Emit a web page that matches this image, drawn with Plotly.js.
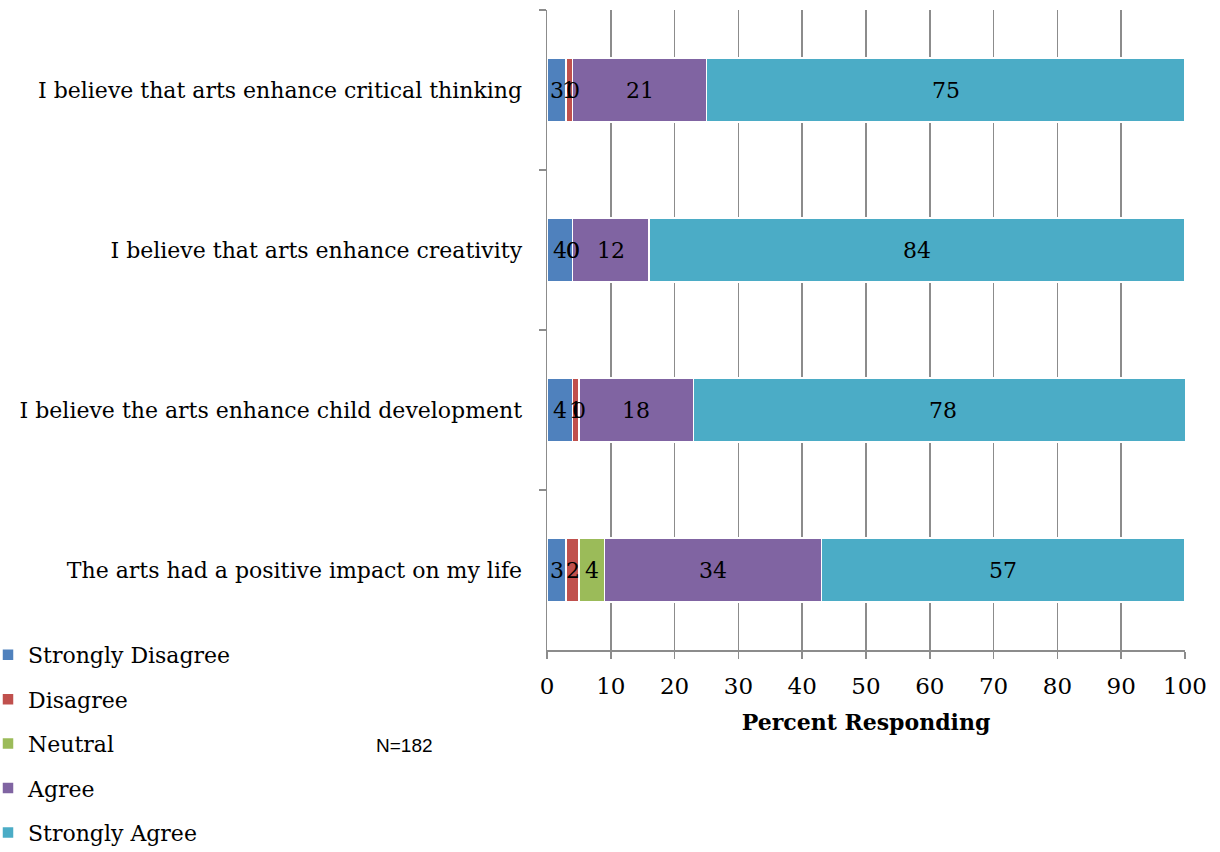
<!DOCTYPE html>
<html><head><meta charset="utf-8">
<script src="https://cdn.plot.ly/plotly-3.0.1.min.js"></script>
<style>body{margin:0;background:#fff}#c{width:1220px;height:852px}</style>
</head><body><div id="c"></div>
<script>
const categories = [
  "I believe that arts enhance critical thinking",
  "I believe that arts enhance creativity",
  "I believe the arts enhance child development",
  "The arts had a positive impact on my life"
];
const seriesNames = ["Strongly Disagree","Disagree","Neutral","Agree","Strongly Agree"];
const stronglyDisagree = [3, 4, 4, 3];
const disagree = [1, 0, 1, 2];
const neutral = [0, 0, 0, 4];
const agree = [21, 12, 18, 34];
const stronglyAgree = [75, 84, 78, 57];
const xTicks = [0,10,20,30,40,50,60,70,80,90,100];
const colors = ["#4F81BD","#C0504D","#9BBB59","#8064A2","#4BACC6"];
const serif = "DejaVu Serif";

const series = [stronglyDisagree, disagree, neutral, agree, stronglyAgree];
const traces = series.map((vals, i) => ({
  type: 'bar', orientation: 'h', name: seriesNames[i],
  y: categories, x: vals, legendgroup: 'g' + i,
  marker: {color: colors[i], line: {color: '#ffffff', width: 1.5}},
  hoverinfo: 'none'
}));

const L = 547, R = 35, T = 10, B = 202, W = 1220, H = 852;
const pw = W - L - R, ph = H - T - B;

const annotations = [];
categories.forEach((cat, ci) => {
  let cum = 0;
  series.forEach((vals) => {
    const v = vals[ci];
    annotations.push({x: cum + v / 2, y: cat, xref: 'x', yref: 'y', text: String(v),
      showarrow: false, font: {family: serif, size: 22, color: '#000'}});
    cum += v;
  });
});
annotations.push({x: (404 - L) / pw, y: (H - B - 745) / ph, xref: 'paper', yref: 'paper',
  xanchor: 'center', yanchor: 'middle', text: 'N=182', showarrow: false,
  font: {family: 'Liberation Sans', size: 19, color: '#000'}});

const layout = {
  width: W, height: H, margin: {l: L, r: R, t: T, b: B, autoexpand: false},
  barmode: 'stack', bargap: 0.6, showlegend: true,
  paper_bgcolor: '#fff', plot_bgcolor: '#fff',
  font: {family: serif, color: '#000'},
  xaxis: {range: [0, 100], tickvals: xTicks, ticktext: xTicks.map(String),
    showgrid: true, gridcolor: '#8c8c8c', gridwidth: 1.5,
    showline: true, linecolor: '#8c8c8c', linewidth: 1.5,
    ticks: 'outside', ticklen: 7, tickcolor: '#8c8c8c', tickwidth: 1.5,
    ticklabelstandoff: 8,
    tickfont: {family: serif, size: 23, color: '#000'}, zeroline: false,
    title: {text: '<b>Percent Responding</b>', font: {family: serif, size: 22, color: '#000'}, standoff: 16}},
  yaxis: {type: 'category', autorange: 'reversed', showgrid: false,
    showline: true, linecolor: '#8c8c8c', linewidth: 1.5,
    ticks: 'outside', tickson: 'boundaries', ticklen: 7, tickcolor: '#8c8c8c', tickwidth: 1.5,
    ticklabelstandoff: 19,
    tickfont: {family: serif, size: 22, color: '#000'}},
  legend: {x: (-12 - L) / pw, xanchor: 'left', y: (H - B - 634) / ph, yanchor: 'top',
    orientation: 'v', traceorder: 'grouped', tracegroupgap: 12.8,
    font: {family: serif, size: 22, color: '#000'}, bgcolor: 'rgba(0,0,0,0)'},
  annotations: annotations
};
Plotly.newPlot('c', traces, layout, {displayModeBar: false, staticPlot: true});
</script></body></html>
